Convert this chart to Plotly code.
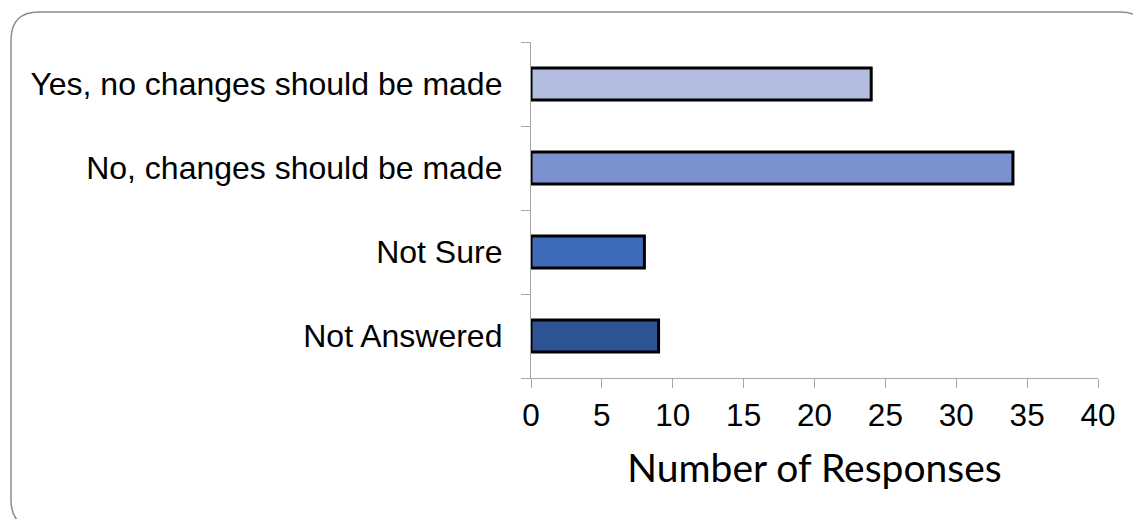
import plotly.graph_objects as go

categories = ["Yes, no changes should be made", "No, changes should be made", "Not Sure", "Not Answered"]
responses = [24, 34, 8, 9]
bar_colors = ["#B3BDDF", "#7A92CF", "#3E6BB9", "#2E5496"]
x_ticks = [0, 5, 10, 15, 20, 25, 30, 35, 40]

W, H = 1133, 519
L, R, T, B = 531, 1098, 42, 378

def px2paper(x, y):
    return (x - L) / (R - L), (B - y) / (B - T)

# rounded border (pixel coords -> paper)
x0, y0, x1, y1, r = 11, 12, 1148, 528, 28
def P(x, y):
    a, b = px2paper(x, y)
    return f"{a:.5f},{b:.5f}"
path = (f"M {P(x0 + r, y0)} L {P(x1 - r, y0)} Q {P(x1, y0)} {P(x1, y0 + r)} "
        f"L {P(x1, y1 - r)} Q {P(x1, y1)} {P(x1 - r, y1)} "
        f"L {P(x0 + r, y1)} Q {P(x0, y1)} {P(x0, y1 - r)} "
        f"L {P(x0, y0 + r)} Q {P(x0, y0)} {P(x0 + r, y0)} Z")

fig = go.Figure(go.Bar(
    y=categories, x=responses, orientation="h",
    marker=dict(color=bar_colors, line=dict(color="black", width=3)),
    width=0.38,
))

fig.update_layout(
    width=W, height=H,
    margin=dict(l=L, r=W - R, t=T, b=H - B),
    paper_bgcolor="white", plot_bgcolor="white",
    showlegend=False,
    font=dict(family="Liberation Sans, Arial", color="black"),
    shapes=[dict(type="path", xref="paper", yref="paper", path=path,
                 line=dict(color="#8c8c8c", width=1.5), layer="below")],
    xaxis=dict(range=[0, 40], tickvals=x_ticks, showgrid=False, zeroline=False,
               showline=True, linecolor="#a6a6a6", linewidth=1.3,
               ticks="outside", ticklen=9, tickcolor="#a6a6a6", tickwidth=1.3,
               ticklabelstandoff=0,
               tickfont=dict(size=31.5, family="Liberation Sans, Arial"),
               title=dict(text="Number of Responses", standoff=22,
                          font=dict(size=39, family="Lato, Calibri"))),
    yaxis=dict(type="category", categoryorder="array", categoryarray=categories[::-1],
               showgrid=False, showline=True, linecolor="#a6a6a6", linewidth=1.3,
               ticks="outside", ticklen=9, tickcolor="#a6a6a6", tickwidth=1.3,
               tickson="boundaries", ticklabelstandoff=21,
               tickfont=dict(size=32, family="Liberation Sans, Arial")),
)

fig.write_html("out.html")
